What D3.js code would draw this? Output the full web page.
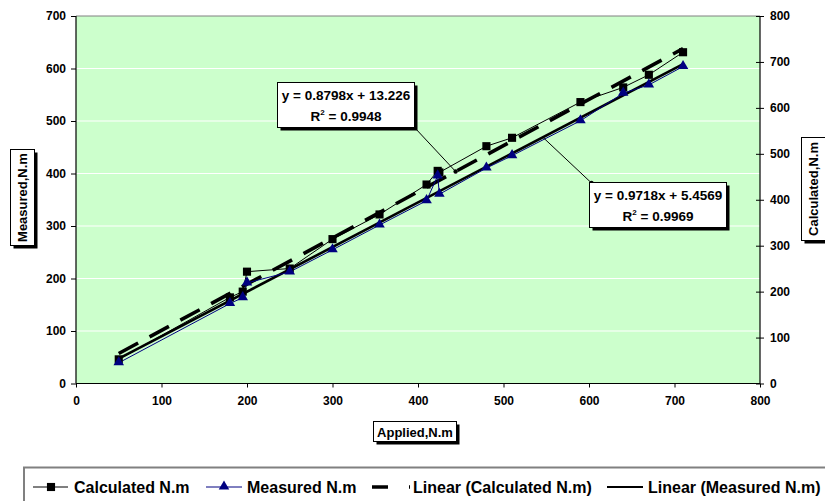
<!DOCTYPE html>
<html>
<head>
<meta charset="utf-8">
<script src="https://cdn.jsdelivr.net/npm/d3@7"></script>
<style>
  body { margin: 0; background: #fff; }
  svg text { font-family: "Liberation Sans", Arial, sans-serif; font-weight: bold; fill: #000; }
</style>
</head>
<body>
<svg id="chart" width="825" height="501"></svg>
<script>
// values
const applied    = [50, 180, 195, 200, 250, 300, 355, 410, 423, 425, 480, 510, 590, 640, 670, 710];
const calculated = [46, 164, 175, 213, 219, 275, 322, 379, 405, 402, 452, 468, 536, 564, 588, 631];
const measured   = [45, 174, 187, 219, 243, 291, 345, 398, 452, 412, 469, 496, 572, 632, 650, 690];

// trendline coefficients and R², as printed in the labels
const calcFit = [0.8798, 13.226, 0.9948];
const measFit = [0.9718, 5.4569, 0.9969];

const xTicks = [0, 100, 200, 300, 400, 500, 600, 700, 800];
const leftTicks = [0, 100, 200, 300, 400, 500, 600, 700];
const rightTicks = [0, 100, 200, 300, 400, 500, 600, 700, 800];

const legendItems = ["Calculated N.m", "Measured N.m", "Linear (Calculated N.m)", "Linear (Measured N.m)"];

const svg = d3.select("#chart");

const X = d3.scaleLinear().domain([0, 800]).range([76, 760]);
const YL = d3.scaleLinear().domain([0, 700]).range([383.5, 16]);
const YR = d3.scaleLinear().domain([0, 800]).range([383.5, 16]);

// plot background
svg.append("rect")
    .attr("x", X(0)).attr("y", YL(700))
    .attr("width", X(800) - X(0)).attr("height", YL(0) - YL(700))
    .attr("fill", "#ccffcc");

// white gridlines on the left axis
svg.selectAll("line.grid")
    .data(leftTicks.slice(1, -1))
    .enter()
    .append("line")
    .attr("class", "grid")
    .attr("x1", X(0)).attr("x2", X(800))
    .attr("y1", d => YL(d)).attr("y2", d => YL(d))
    .attr("stroke", "#fff").attr("stroke-width", 1.2);

// top border of plot area
svg.append("line")
    .attr("x1", X(0)).attr("x2", X(800))
    .attr("y1", YL(700)).attr("y2", YL(700))
    .attr("stroke", "#808080").attr("stroke-width", 1);

// trendlines over the data range
const xMin = d3.min(applied), xMax = d3.max(applied);
const fitY = (fit, a) => fit[0] * a + fit[1];
function fitLine(fit, Y) {
    return [xMin, xMax].map(a => [X(a), Y(fitY(fit, a))]);
}
svg.append("path")
    .attr("d", d3.line()(fitLine(measFit, YR)))
    .attr("stroke", "#000").attr("stroke-width", 2.6).attr("fill", "none");
svg.append("path")
    .attr("d", d3.line()(fitLine(calcFit, YL)))
    .attr("stroke", "#000").attr("stroke-width", 3.6).attr("fill", "none")
    .attr("stroke-dasharray", "22,13");

// series lines
const calcPts = applied.map((a, i) => [X(a), YL(calculated[i])]);
const measPts = applied.map((a, i) => [X(a), YR(measured[i])]);

svg.append("path")
    .attr("d", d3.line()(calcPts))
    .attr("stroke", "#000").attr("stroke-width", 1).attr("fill", "none");
svg.append("path")
    .attr("d", d3.line()(measPts))
    .attr("stroke", "#000080").attr("stroke-width", 1).attr("fill", "none");

// markers
const squareSym = d3.symbol().type(d3.symbolSquare).size(66);
const triSym = d3.symbol().type(d3.symbolTriangle).size(48);

svg.selectAll("path.calcMark")
    .data(calcPts)
    .enter()
    .append("path")
    .attr("class", "calcMark")
    .attr("d", squareSym)
    .attr("transform", d => `translate(${d[0]},${d[1]})`)
    .attr("fill", "#000");

svg.selectAll("path.measMark")
    .data(measPts)
    .enter()
    .append("path")
    .attr("class", "measMark")
    .attr("d", triSym)
    .attr("transform", d => `translate(${d[0]},${d[1] - 0.5})`)
    .attr("fill", "#000080");

// axes
const axisLeft = d3.axisLeft(YL).tickValues(leftTicks).tickSize(5).tickPadding(5);
const axisRight = d3.axisRight(YR).tickValues(rightTicks).tickSize(4).tickPadding(6);
const axisBottom = d3.axisBottom(X).tickValues(xTicks).tickSize(4).tickPadding(9);

function styleAxis(g) {
    g.select(".domain").attr("stroke", "#000").attr("stroke-width", 1.2);
    g.selectAll(".tick line").attr("stroke", "#000");
    g.selectAll(".tick text").style("font-size", "12px")
        .style("font-family", '"Liberation Sans", Arial, sans-serif')
        .style("font-weight", "bold");
}

svg.append("g").attr("transform", `translate(${X(0)},0)`).call(axisLeft).call(styleAxis)
    .select(".domain").attr("d", `M0,${YL(700)}V${YL(0)}`);
const gr = svg.append("g").attr("transform", `translate(${X(800)},0)`).call(axisRight).call(styleAxis);
gr.select(".domain").attr("d", `M0,${YR(800)}V${YR(0)}`);
gr.selectAll(".tick line").attr("x1", -4).attr("x2", 4);
svg.append("g").attr("transform", `translate(0,${YL(0)})`).call(axisBottom).call(styleAxis)
    .select(".domain").attr("d", `M${X(0)},0H${X(800)}`);

// boxed labels with a drop shadow
function shadowBox(x, y, w, h) {
    svg.append("rect").attr("x", x + 3).attr("y", y + 3).attr("width", w).attr("height", h)
        .attr("fill", "#000");
    svg.append("rect").attr("x", x).attr("y", y).attr("width", w).attr("height", h)
        .attr("fill", "#fff").attr("stroke", "#000").attr("stroke-width", 1);
}

// axis titles
shadowBox(10.5, 149.5, 24, 96);
svg.append("text").attr("transform", "translate(27,197.5) rotate(-90)")
    .attr("text-anchor", "middle").style("font-size", "13px").text("Measured,N.m");

shadowBox(801.5, 137.5, 26, 103);
svg.append("text").attr("transform", "translate(818,189) rotate(-90)")
    .attr("text-anchor", "middle").style("font-size", "13px").text("Calculated,N.m");

shadowBox(373.5, 421.5, 83, 20);
svg.append("text").attr("x", 415).attr("y", 436.5)
    .attr("text-anchor", "middle").style("font-size", "13px").text("Applied,N.m");

// trendline labels with leader lines
function fitLabel(fit, bx, by, from, to) {
    svg.append("line")
        .attr("x1", from[0]).attr("y1", from[1]).attr("x2", to[0]).attr("y2", to[1])
        .attr("stroke", "#000").attr("stroke-width", 1);
    svg.append("circle").attr("cx", to[0]).attr("cy", to[1]).attr("r", 2.2).attr("fill", "#000");
    shadowBox(bx, by, 137, 45);
    const cx = bx + 68.5;
    svg.append("text").attr("x", cx).attr("y", by + 17.5).attr("text-anchor", "middle")
        .style("font-size", "13.5px").text(`y = ${fit[0]}x + ${fit[1]}`);
    const t = svg.append("text").attr("x", cx).attr("y", by + 38).attr("text-anchor", "middle")
        .style("font-size", "13.5px");
    t.append("tspan").text("R");
    t.append("tspan").attr("dy", -6).style("font-size", "8px").text("2");
    t.append("tspan").attr("dy", 6).text(` = ${fit[2]}`);
}

// leader anchors on the trendlines (applied value where each line touches)
const calcAnchor = 444;
const measAnchor = 546;
fitLabel(calcFit, 277.5, 82.5, [415, 128], [X(calcAnchor), YL(fitY(calcFit, calcAnchor))]);
fitLabel(measFit, 589.5, 182.5, [X(measAnchor), YR(fitY(measFit, measAnchor))], [591.5, 183]);

// legend
svg.append("rect").attr("x", 24).attr("y", 467.5).attr("width", 820).attr("height", 50)
    .attr("fill", "#fff").attr("stroke", "#808080").attr("stroke-width", 2);

const ly = 487;
const lg = svg.append("g");
// Calculated
lg.append("line").attr("x1", 33).attr("x2", 68).attr("y1", ly).attr("y2", ly).attr("stroke", "#000");
lg.append("path").attr("d", squareSym).attr("transform", `translate(51,${ly})`).attr("fill", "#000");
// Measured
lg.append("line").attr("x1", 206).attr("x2", 242).attr("y1", ly).attr("y2", ly).attr("stroke", "#000080");
lg.append("path").attr("d", triSym).attr("transform", `translate(224,${ly - 0.5})`).attr("fill", "#000080");
// Linear (Calculated)
lg.append("line").attr("x1", 372).attr("x2", 410).attr("y1", ly).attr("y2", ly)
    .attr("stroke", "#000").attr("stroke-width", 3.6).attr("stroke-dasharray", "16,21");
// Linear (Measured)
lg.append("line").attr("x1", 607).attr("x2", 643).attr("y1", ly).attr("y2", ly)
    .attr("stroke", "#000").attr("stroke-width", 2);

const legendX = [74, 247, 413, 648];
lg.selectAll("text")
    .data(legendItems)
    .enter()
    .append("text")
    .attr("x", (d, i) => legendX[i])
    .attr("y", ly + 5.8)
    .style("font-size", "16px")
    .text(d => d);
</script>
</body>
</html>
